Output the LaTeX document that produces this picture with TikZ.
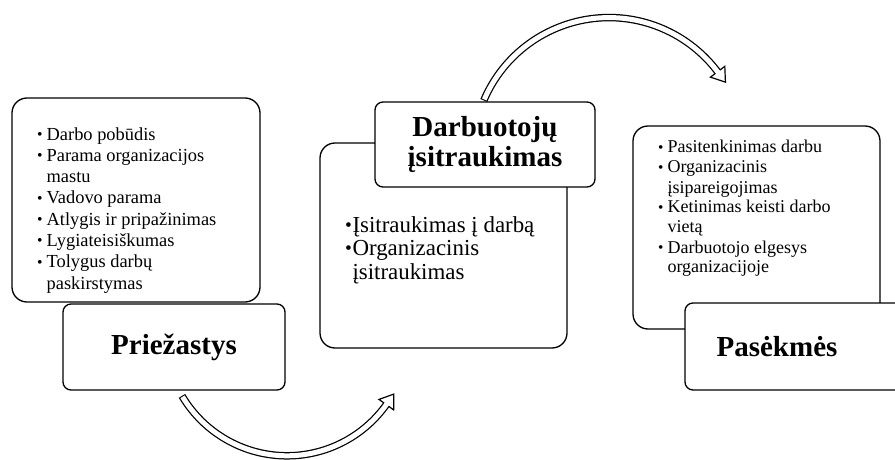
\documentclass[tikz,border=0pt]{standalone}
\usepackage{fontspec}
\usepackage{graphicx}
\setmainfont{Liberation Serif}
\usetikzlibrary{calc}
\newcommand{\bul}{\raisebox{0.03em}{\scalebox{0.85}{\textbullet}}}
\tikzset{
	listbox/.style={draw, line width=1.3pt, rounded corners=15pt, inner sep=0},
	titlebox/.style={draw, line width=1.3pt, rounded corners=8pt, fill=white, inner sep=0},
	titletext/.style={font=\fontsize{29}{30}\selectfont\bfseries, align=center},
	smalllist/.style={anchor=base west, inner sep=0, font=\fontsize{18.4}{21.3}\selectfont},
	biglist/.style={anchor=base west, inner sep=0, font=\fontsize{22.9}{23.5}\selectfont}
}
\begin{document}
\begin{tikzpicture}[x=1pt, y=1pt]
			\useasboundingbox (0,0) rectangle (895,459);
			\clip (0,0) rectangle (895,459);
			% priezastys
			\node[listbox, minimum width=248, minimum height=204] (causesbox) at (136,259) {};
			\node[smalllist] (causes) at (37,319) {\begin{tabular}[t]{@{}l@{\hspace{4pt}}l@{}}
				\bul & Darbo pobūdis\\
				\bul & Parama organizacijos\\
				& mastu\\
				\bul & Vadovo parama\\
				\bul & Atlygis ir pripažinimas\\
				\bul & Lygiateisiškumas\\
				\bul & Tolygus darbų\\
				& paskirstymas
			\end{tabular}};
			\node[titlebox, titletext, minimum width=222, minimum height=86] (causestitle) at (174,112) {Priežastys};
			% isitraukimas
			\node[listbox, minimum width=247, minimum height=205] (engbox) at (443.5,213.5) {};
			\node[biglist] (eng) at (345,227) {\begin{tabular}[t]{@{}l@{\hspace{0.5pt}}l@{}}
				\bul & Įsitraukimas į darbą\\
				\bul & Organizacinis\\
				& įsitraukimas
			\end{tabular}};
			\node[titlebox, titletext, minimum width=220, minimum height=85] (engtitle) at (485,314.5) {Darbuotojų\\ įsitraukimas};
			% pasekmes
			\node[listbox, minimum width=247, minimum height=203] (effbox) at (756.5,231.5) {};
			\node[smalllist, font=\fontsize{18}{20}\selectfont] (effects) at (658,306) {\begin{tabular}[t]{@{}l@{\hspace{4pt}}l@{}}
				\bul & Pasitenkinimas darbu\\
				\bul & Organizacinis\\
				& įsipareigojimas\\
				\bul & Ketinimas keisti darbo\\
				& vietą\\
				\bul & Darbuotojo elgesys\\
				& organizacijoje
			\end{tabular}};
			\node[titlebox, minimum width=225, minimum height=87] (efftitlebox) at (797.5,112.5) {};
			\node[titletext] (efftitle) at (777,112) {Pasėkmės};
			% apatine rodykle
			\coordinate (bc) at (287,125.2);
			\coordinate (bhead) at ($(bc)+(324.5:122)$);
			\draw[line width=7.5pt] ($(bc)+(210.6:122)$) arc[start angle=210.6, end angle=324.5, radius=122];
			\draw[line width=1.2pt, fill=white] ($(bhead)+(54.5:13)$) -- ($(bhead)+(-35.5:9)$) -- ($(bhead)+(144.5:9)$) -- cycle;
			\draw[line width=5pt, white] ($(bc)+(211.1:122)$) arc[start angle=211.1, end angle=325.3, radius=122];
			% virsutine rodykle
			\coordinate (tc) at (609,305.4);
			\coordinate (thead) at ($(tc)+(37:136)$);
			\draw[line width=7.5pt] ($(tc)+(157:136)$) arc[start angle=157, end angle=37, radius=136];
			\draw[line width=1.2pt, fill=white] ($(thead)+(-53:13)$) -- ($(thead)+(37:9)$) -- ($(thead)+(217:9)$) -- cycle;
			\draw[line width=5pt, white] ($(tc)+(156.55:136)$) arc[start angle=156.55, end angle=36.3, radius=136];
		\end{tikzpicture}
\end{document}
